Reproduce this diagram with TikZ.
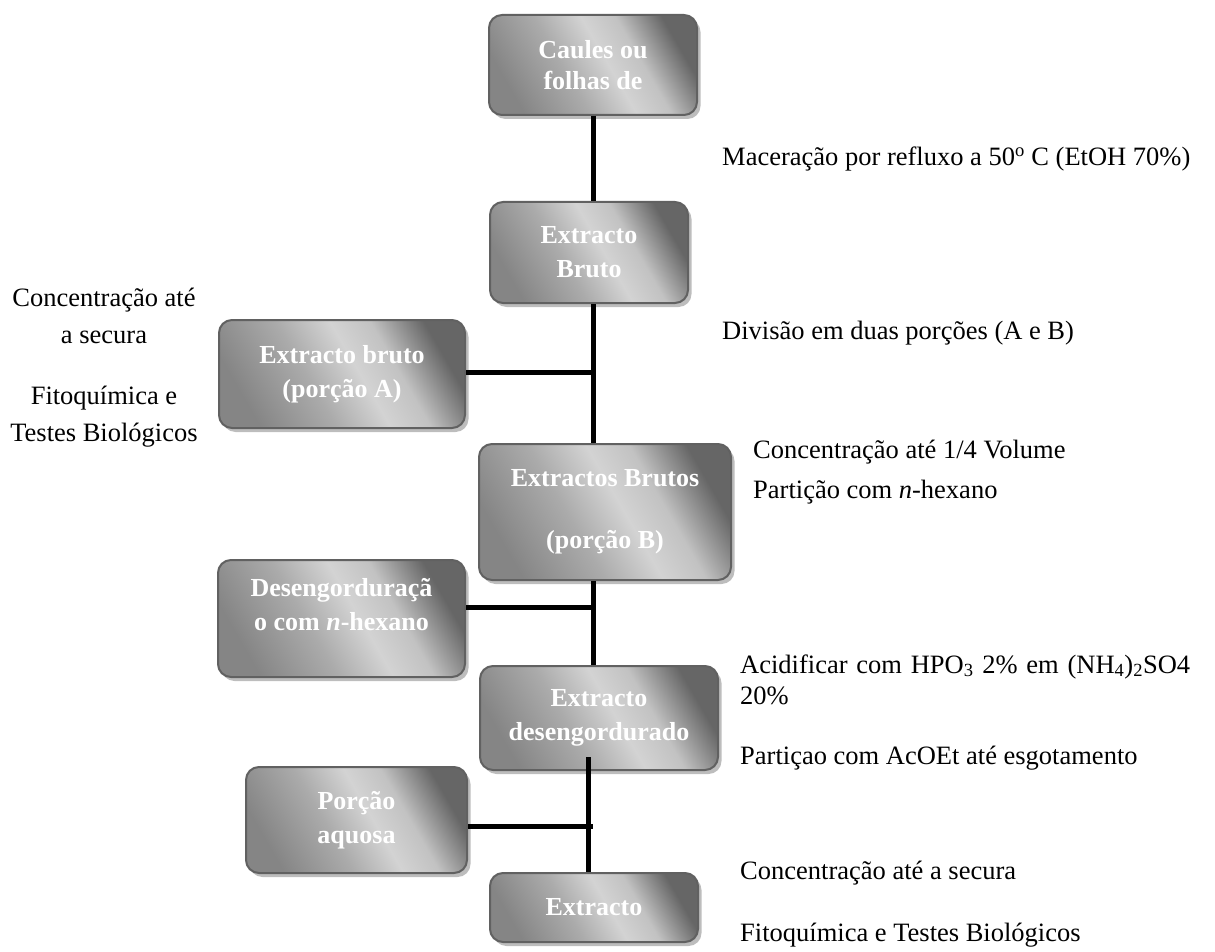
\documentclass[tikz,border=0pt]{standalone}
\usepackage{fontspec}
\setmainfont{Liberation Serif}
\usetikzlibrary{shadows}
\definecolor{gA}{HTML}{858585}
\definecolor{gB}{HTML}{ABABAB}
\definecolor{gC}{HTML}{D3D3D3}
\definecolor{gD}{HTML}{C2C2C2}
\definecolor{gE}{HTML}{666666}
\definecolor{edgegray}{HTML}{616161}
\definecolor{shadowgray}{HTML}{BDBDBD}
\pgfdeclarehorizontalshading{boxshade}{100bp}{color(0bp)=(gA); color(25bp)=(gA); color(42bp)=(gB); color(54bp)=(gC); color(63bp)=(gD); color(75bp)=(gE); color(100bp)=(gE)}
\begin{document}
\begin{tikzpicture}[x=1pt,y=-1pt,
  box/.style={rounded corners=13pt, draw=edgegray, line width=2pt,
    shading=boxshade, shading angle=30, text=white,
    font=\fontsize{26}{34}\selectfont\bfseries, align=center, inner sep=0pt,
    drop shadow={shadow xshift=3.5pt,shadow yshift=-4pt,fill=shadowgray,opacity=1}},
  conn/.style={line width=5pt, draw=black},
  lbl/.style={font=\fontsize{26.5}{32}\selectfont, inner sep=0pt, anchor=west,
    text height=18pt, text depth=6pt},
  clbl/.style={lbl, anchor=center}]
\useasboundingbox (0,0) rectangle (1215,952);

% boxes
\node[box, minimum width=208pt, minimum height=100pt] (b1) at (593,65) {Caules ou\\[-3pt]folhas de};
\node[box, minimum width=198pt, minimum height=101pt] (b2) at (589,252.5) {Extracto\\Bruto};
\node[box, minimum width=246pt, minimum height=108pt] (bA) at (342,374) {Extracto bruto\\(porção A)};
\node[box, minimum width=252pt, minimum height=136pt] (bB) at (605,512) {Extractos Brutos\\[28pt](porção B)};
\node[box, minimum width=247pt, minimum height=117pt] (bD) at (341.5,618.5) {Desengorduraçã\\o com \textit{n}-hexano\rule[-28pt]{0pt}{0pt}};
\node[box, minimum width=238pt, minimum height=104pt] (bDE) at (599,718) {Extracto\\desengordurado};
\node[box, minimum width=221pt, minimum height=106pt] (bQ) at (356.5,820) {Porção\\aquosa};
\node[box, minimum width=208pt, minimum height=69pt] (bE) at (594,907.5) {Extracto};

% connectors
\coordinate (jA) at (593,372);
\coordinate (jD) at (593,607);
\coordinate (tE) at (588,757);
\coordinate (jQ) at (593,826);
\draw[conn] (b1.south -| jA) -- (b2.north -| jA);
\draw[conn] (b2.south -| jA) -- (bB.north -| jA);
\draw[conn] (bA.east |- jA) -- (jA);
\draw[conn] (bB.south -| jD) -- (bDE.north -| jD);
\draw[conn] (bD.east |- jD) -- (jD);
\draw[conn] (tE) -- (bE.north -| tE);
\draw[conn] (bQ.east |- jQ) -- (jQ);

% right-hand labels
\node[lbl] (tMac) at (722,160) {Maceração por refluxo a 50\textsuperscript{o} C (EtOH 70\%)};
\node[lbl] (tDiv) at (722,333) {Divisão em duas porções (A e B)};
\node[lbl] (tCon) at (753,452) {Concentração até 1/4 Volume};
\node[lbl] (tPar) at (753,492) {Partição com \textit{n}-hexano};
\node[lbl] (tAci) at (740,667) {\makebox[450pt][s]{Acidificar com HPO\textsubscript{3} 2\% em (NH\textsubscript{4})\textsubscript{2}SO4}};
\node[lbl] (tVin) at (740,698) {20\%};
\node[lbl] (tAcO) at (740,758) {Partiçao com AcOEt até esgotamento};
\node[lbl] (tSec) at (740,873) {Concentração até a secura};
\node[lbl] (tFit) at (740,935) {Fitoquímica e Testes Biológicos};

% left-hand labels
\node[clbl] (lCon) at (104,300) {Concentração até};
\node[clbl] (lSec) at (104,337) {a secura};
\node[clbl] (lFit) at (104,398) {Fitoquímica e};
\node[clbl] (lTes) at (104,435) {Testes Biológicos};
\end{tikzpicture}
\end{document}
